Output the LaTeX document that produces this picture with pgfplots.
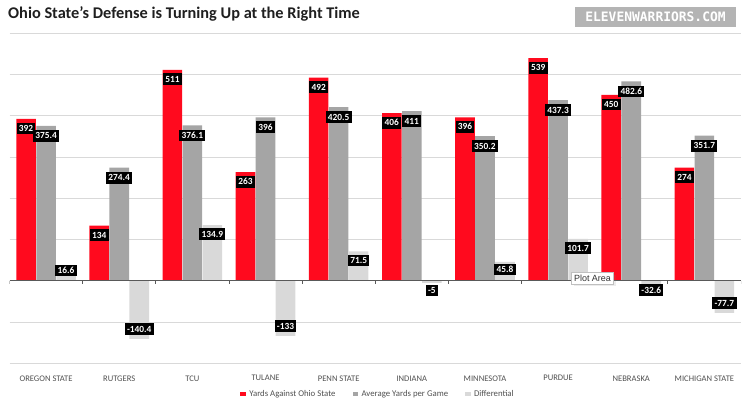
\documentclass[border=0pt]{standalone}
\usepackage{pgfplots}
\usepackage{pgfplotstable}
\pgfplotsset{compat=1.18}
\usetikzlibrary{shadows}
\usepackage{fontspec}
\setmainfont{Carlito}
\newfontfamily\logofont{DejaVu Sans Mono}
\newfontfamily\tipfont{Liberation Sans}
\definecolor{osured}{HTML}{FF0A1E}
\definecolor{avggray}{HTML}{A5A5A5}
\definecolor{difgray}{HTML}{D9D9D9}
\definecolor{gridgray}{HTML}{D9D9D9}
\definecolor{labgray}{HTML}{505050}
\definecolor{logogray}{HTML}{B4B4B4}

\pgfplotstableread{
x yas avg dif
0 392 375.4 16.6
1 134 274.4 -140.4
2 511 376.1 134.9
3 263 396 -133
4 492 420.5 71.5
5 406 411 -5
6 396 350.2 45.8
7 539 437.3 101.7
8 450 482.6 -32.6
9 274 351.7 -77.7
}\data

\begin{document}
\begin{tikzpicture}
\path[use as bounding box] (0,0) rectangle (748bp,408bp);
\node[anchor=west, font=\bfseries\fontsize{16.4}{18}\selectfont, text=black!88, inner sep=0pt] at (8bp,394bp) {Ohio State's Defense is Turning Up at the Right Time};
\node[fill=logogray, text=white, minimum width=161bp, minimum height=20bp, inner sep=0pt, font=\logofont\bfseries\fontsize{13}{13}\selectfont] at (655.5bp,391bp) {ELEVENWARRIORS.COM};
\begin{axis}[
  at={(9.5bp,44.5bp)}, anchor=south west, scale only axis,
  width=731.5bp, height=330.5bp,
  ymin=-200, ymax=600, xmin=-0.5, xmax=9.5,
  ybar, bar width=0.268,
  axis line style={draw=none}, tick style={draw=none},
  ytick={-200,-100,...,600}, yticklabels={},
  ymajorgrids, grid style={draw=gridgray, line width=0.8bp},
  xtick={0,...,9},
  xticklabels={OREGON STATE, RUTGERS, TCU, TULANE, PENN STATE, INDIANA, MINNESOTA, PURDUE, NEBRASKA, MICHIGAN STATE},
  xticklabel style={font=\fontsize{8.6}{9}\selectfont, text=labgray, anchor=center, yshift=-10.5bp},
  point meta=explicit symbolic,
  every node near coord/.append style={fill=black, text=white, font=\bfseries\fontsize{9.4}{9.4}\selectfont, inner xsep=2.3bp, inner ysep=2.8bp, text height=6.2bp, text depth=0bp},
  legend columns=3,
  legend style={at={(0.5038,-0.0923)}, anchor=center, draw=none, fill=none, font=\fontsize{8.8}{9}\selectfont, text=labgray, column sep=1.5bp, /tikz/every even column/.append style={column sep=15bp}},
  legend image code/.code={\fill[#1] (0bp,-2bp) rectangle (5.5bp,2.5bp);},
]
\addplot[fill=osured, draw=none, bar shift=-0.2734, nodes near coords, every node near coord/.append style={anchor=north, yshift=-3.5bp}] table[x=x, y=yas, meta=yas] {\data};
\addlegendentry{Yards Against Ohio State}
\addplot[fill=avggray, draw=none, bar shift=0, nodes near coords, every node near coord/.append style={anchor=north, yshift=-4bp}] table[x=x, y=avg, meta=avg] {\data};
\addlegendentry{Average Yards per Game}
\addplot[fill=difgray, draw=none, bar shift=0.2734] table[x=x, y=dif, meta=dif] {\data};
\addlegendentry{Differential}
% data labels of the differential series
\addplot[forget plot, draw=none, fill=none, bar shift=0.2734, nodes near coords, every node near coord/.append style={anchor=north, yshift=-3bp}]
  coordinates {(2,134.9)[134.9] (4,71.5)[71.5] (7,101.7)[101.7]};
\addplot[forget plot, draw=none, fill=none, bar shift=0.2734, nodes near coords, every node near coord/.append style={anchor=south, yshift=3.7bp}]
  coordinates {(1,-140.4)[-140.4] (3,-133)[-133] (9,-77.7)[-77.7]};
\addplot[forget plot, draw=none, fill=none, bar shift=0.2734, nodes near coords, every node near coord/.append style={anchor=south, yshift=-2.5bp}]
  coordinates {(0,16.6)[16.6]};
\addplot[forget plot, draw=none, fill=none, bar shift=0.2734, nodes near coords, every node near coord/.append style={anchor=north, yshift=-1.5bp}]
  coordinates {(5,-5)[-5] (6,45.8)[45.8]};
\addplot[forget plot, draw=none, fill=none, bar shift=0.2734, nodes near coords, every node near coord/.append style={anchor=south, yshift=-1.7bp}]
  coordinates {(8,-32.6)[-32.6]};
\draw[black!65, line width=0.9bp] (axis cs:-0.5,0) -- (axis cs:9.5,0);
\pgfplotsinvokeforeach{-0.5,0.5,1.5,2.5,3.5,4.5,5.5,6.5,7.5,8.5,9.5}{
  \draw[black!65, line width=0.8bp] (axis cs:#1,0) -- ([yshift=-3.5bp]axis cs:#1,0);
}
\end{axis}
\node[fill=white, draw=black!25, drop shadow={opacity=0.15}, text=black!80, font=\tipfont\fontsize{9}{9}\selectfont, inner xsep=2.5bp, inner ysep=2.5bp] at (592.5bp,130bp) {Plot Area};
\end{tikzpicture}
\end{document}
